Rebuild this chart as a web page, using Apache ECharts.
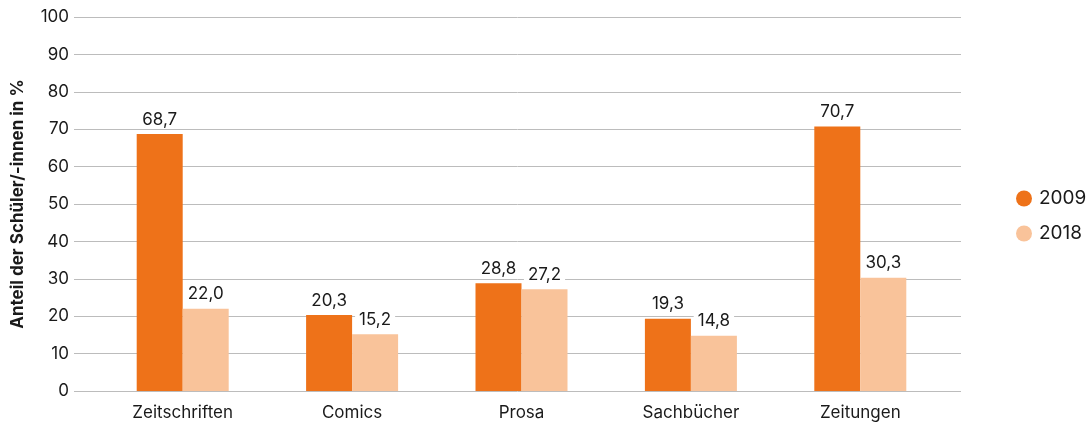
<!DOCTYPE html>
<html>
<head>
<meta charset="utf-8">
<script src="https://cdn.jsdelivr.net/npm/echarts@6/dist/echarts.min.js"></script>
<style>
  html, body { margin: 0; padding: 0; background: #fff; }
  #chart { width: 1090px; height: 423px; }
</style>
</head>
<body>
<div id="chart"></div>
<script>
const categories = ['Zeitschriften', 'Comics', 'Prosa', 'Sachbücher', 'Zeitungen'];
const values2009 = [68.7, 20.3, 28.8, 19.3, 70.7];
const values2018 = [22.0, 15.2, 27.2, 14.8, 30.3];
const seriesNames = ['2009', '2018'];
const yTicks = [0, 10, 20, 30, 40, 50, 60, 70, 80, 90, 100];

const FONT = 'Inter, "Open Sans", sans-serif';
const TEXT = '#1a1a1a';
const C2009 = '#ee7219';
const C2018 = '#f9c39a';

const fmt = v => v.toFixed(1).replace('.', ',');

const barLabel = {
  show: true,
  position: 'top',
  distance: 5,
  color: TEXT,
  fontFamily: FONT,
  fontSize: 17,
  backgroundColor: '#fff',
  padding: [1, 4],
  formatter: p => fmt(p.value)
};

const chart = echarts.init(document.getElementById('chart'), null, { renderer: 'canvas' });
chart.setOption({
  animation: false,
  textStyle: { fontFamily: FONT },
  grid: [
    { left: 74, right: 129, top: 17, bottom: 32 },
    { left: 98, right: 145, top: 17, bottom: 32 }
  ],
  xAxis: [
    { gridIndex: 0, type: 'value', min: 0, max: 1, show: false },
    {
      gridIndex: 1, type: 'category', data: categories,
      axisLine: { show: false }, axisTick: { show: false },
      axisLabel: { color: TEXT, fontFamily: FONT, fontSize: 17, margin: 13 }
    }
  ],
  yAxis: [
    {
      gridIndex: 0, type: 'value', min: yTicks[0], max: yTicks[yTicks.length - 1], interval: 10,
      name: 'Anteil der Schüler/-innen in %',
      nameLocation: 'middle', nameRotate: 90, nameGap: 48,
      nameTextStyle: { color: TEXT, fontFamily: FONT, fontSize: 17, fontWeight: 'bold' },
      axisLine: { show: false }, axisTick: { show: false },
      axisLabel: { color: TEXT, fontFamily: FONT, fontSize: 17, margin: 5 },
      splitLine: { lineStyle: { color: '#bcbcbc', width: 1 } }
    },
    {
      gridIndex: 1, type: 'value', min: 0, max: 100, show: false,
      splitLine: { show: false }
    }
  ],
  legend: {
    orient: 'vertical',
    left: 1011, top: 184,
    icon: 'circle',
    itemWidth: 16, itemHeight: 16, itemGap: 16,
    data: seriesNames,
    textStyle: { color: TEXT, fontFamily: FONT, fontSize: 19, padding: [0, 0, 0, 2] }
  },
  series: [
    {
      name: seriesNames[0], type: 'bar', xAxisIndex: 1, yAxisIndex: 1,
      data: values2009, barWidth: 46, barGap: '0%',
      itemStyle: { color: C2009 }, label: barLabel
    },
    {
      name: seriesNames[1], type: 'bar', xAxisIndex: 1, yAxisIndex: 1,
      data: values2018, barWidth: 46, barGap: '0%',
      itemStyle: { color: C2018 }, label: barLabel
    }
  ]
});
</script>
</body>
</html>
